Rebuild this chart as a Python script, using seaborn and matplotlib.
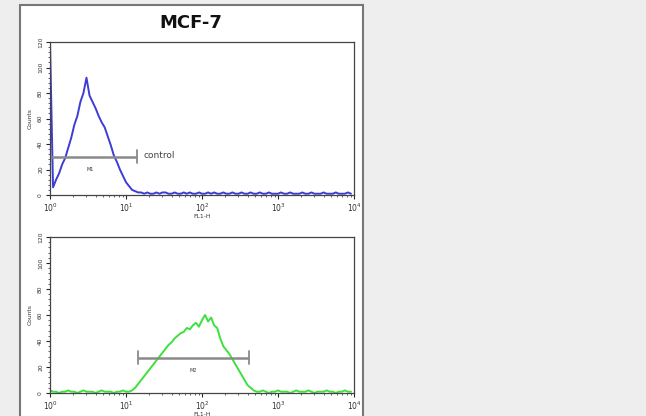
import numpy as np
import matplotlib
matplotlib.use('Agg')
import matplotlib.pyplot as plt
from matplotlib.patches import Rectangle
from matplotlib.ticker import LogLocator, MultipleLocator, NullFormatter
import seaborn as sns

# Channel scale: 100 channels across four decades
DECADE_STEP = 0.04
fl1 = 10 ** (np.arange(100) * DECADE_STEP)

# Control histogram (blue), counts per channel
control_counts = [
    120, 6, 12, 17, 24, 29, 37, 45, 55, 62,
    73, 80, 92, 78, 73, 68, 62, 57, 53, 46,
    39, 31, 26, 20, 15, 10, 7, 4, 3, 2,
    2, 1, 2, 1, 1, 2, 1, 2, 2, 1,
    1, 2, 1, 1, 2, 1, 2, 1, 1, 2,
    1, 1, 2, 1, 2, 1, 1, 2, 1, 1,
    2, 1, 1, 2, 1, 1, 2, 1, 1, 2,
    1, 1, 2, 1, 1, 1, 2, 1, 1, 2,
    1, 1, 1, 2, 1, 1, 2, 1, 1, 1,
    2, 1, 1, 1, 2, 1, 1, 1, 2, 1,
]

# Stained histogram (green), counts per channel
sample_counts = [
    2, 1, 1, 0, 1, 1, 2, 1, 1, 0,
    1, 2, 1, 1, 1, 0, 1, 2, 1, 1,
    1, 0, 1, 1, 2, 1, 1, 2, 4, 7,
    10, 13, 16, 19, 22, 25, 28, 31, 34, 37,
    39, 42, 44, 46, 47, 50, 49, 52, 54, 51,
    56, 60, 55, 58, 52, 50, 42, 36, 33, 30,
    26, 22, 18, 14, 10, 6, 4, 2, 1, 1,
    2, 1, 0, 1, 1, 2, 1, 1, 1, 0,
    1, 2, 1, 1, 1, 2, 1, 0, 1, 1,
    1, 2, 1, 1, 0, 1, 1, 2, 1, 1,
]

# Markers: (start, end, height, label, label position, label height)
marker_m1 = (1.0, 13.8, 30, 'M1', 3.4, 20)
marker_m2 = (14.5, 410, 27, 'M2', 76, 17)

y_ticks = [0, 20, 40, 60, 80, 100, 120]
x_ticks = [1, 10, 100, 1000, 10000]
x_labels = ['$10^0$', '$10^1$', '$10^2$', '$10^3$', '$10^4$']

sns.set_style('ticks')
plt.rcParams['font.family'] = ['DejaVu Sans']

fig = plt.figure(figsize=(6.46, 4.16), dpi=100)
fig.patch.set_facecolor('#eeeeee')

# white card behind the plots
card = Rectangle((20 / 646, -0.01), 343 / 646, (411 / 416) + 0.01,
                 transform=fig.transFigure, facecolor='white',
                 edgecolor='#777777', linewidth=1.5, zorder=-10)
fig.patches.append(card)

fig.text(191 / 646, 1 - 23 / 416, 'MCF-7', ha='center', va='center',
         fontsize=13, fontweight='bold', color='#111111')

ax_top = fig.add_axes([50 / 646, 1 - 195 / 416, 304 / 646, 153 / 416])
ax_bot = fig.add_axes([50 / 646, 1 - 393 / 416, 304 / 646, 156 / 416])


def style_axis(ax):
    ax.set_facecolor('white')
    ax.set_xscale('log')
    ax.set_xlim(1, 10000)
    ax.set_ylim(0, 120)
    ax.set_xticks(x_ticks)
    ax.set_xticklabels(x_labels, fontsize=5.5, color='#333333')
    ax.xaxis.set_minor_locator(LogLocator(base=10, subs=np.arange(2, 10)))
    ax.xaxis.set_minor_formatter(NullFormatter())
    ax.set_yticks(y_ticks)
    ax.set_yticklabels([str(v) for v in y_ticks], fontsize=4.3,
                       rotation=90, va='center', color='#333333')
    ax.yaxis.set_minor_locator(MultipleLocator(4))
    ax.tick_params(which='major', length=3, width=0.8, pad=2)
    ax.tick_params(which='minor', length=1.5, width=0.5)
    ax.set_xlabel('FL1-H', fontsize=4.3, labelpad=0, color='#333333')
    ax.set_ylabel('Counts', fontsize=4.3, labelpad=4, color='#333333')
    for s in ax.spines.values():
        s.set_color('#444444')
        s.set_linewidth(0.9)


def draw_marker(ax, marker, text_color='#333333'):
    x0, x1, h, label, lx, ly = marker
    ax.plot([x0, x1], [h, h], color='#8a8a8a', lw=1.8, solid_capstyle='butt')
    for xe in (x0, x1):
        ax.plot([xe, xe], [h - 5, h + 5], color='#8a8a8a', lw=1.3)
    ax.text(lx, ly, label, fontsize=3.5, ha='center', va='center',
            color=text_color)


sns.lineplot(x=fl1, y=control_counts, ax=ax_top, color='#3c3cd6',
             linewidth=1.4)
style_axis(ax_top)
draw_marker(ax_top, marker_m1)
ax_top.text(17, 31, 'control', fontsize=6.5, ha='left', va='center',
            color='#444444')

sns.lineplot(x=fl1, y=sample_counts, ax=ax_bot, color='#3ee03e',
             linewidth=1.4)
style_axis(ax_bot)
draw_marker(ax_bot, marker_m2)

fig.savefig('out.png', dpi=100, facecolor=fig.get_facecolor())
